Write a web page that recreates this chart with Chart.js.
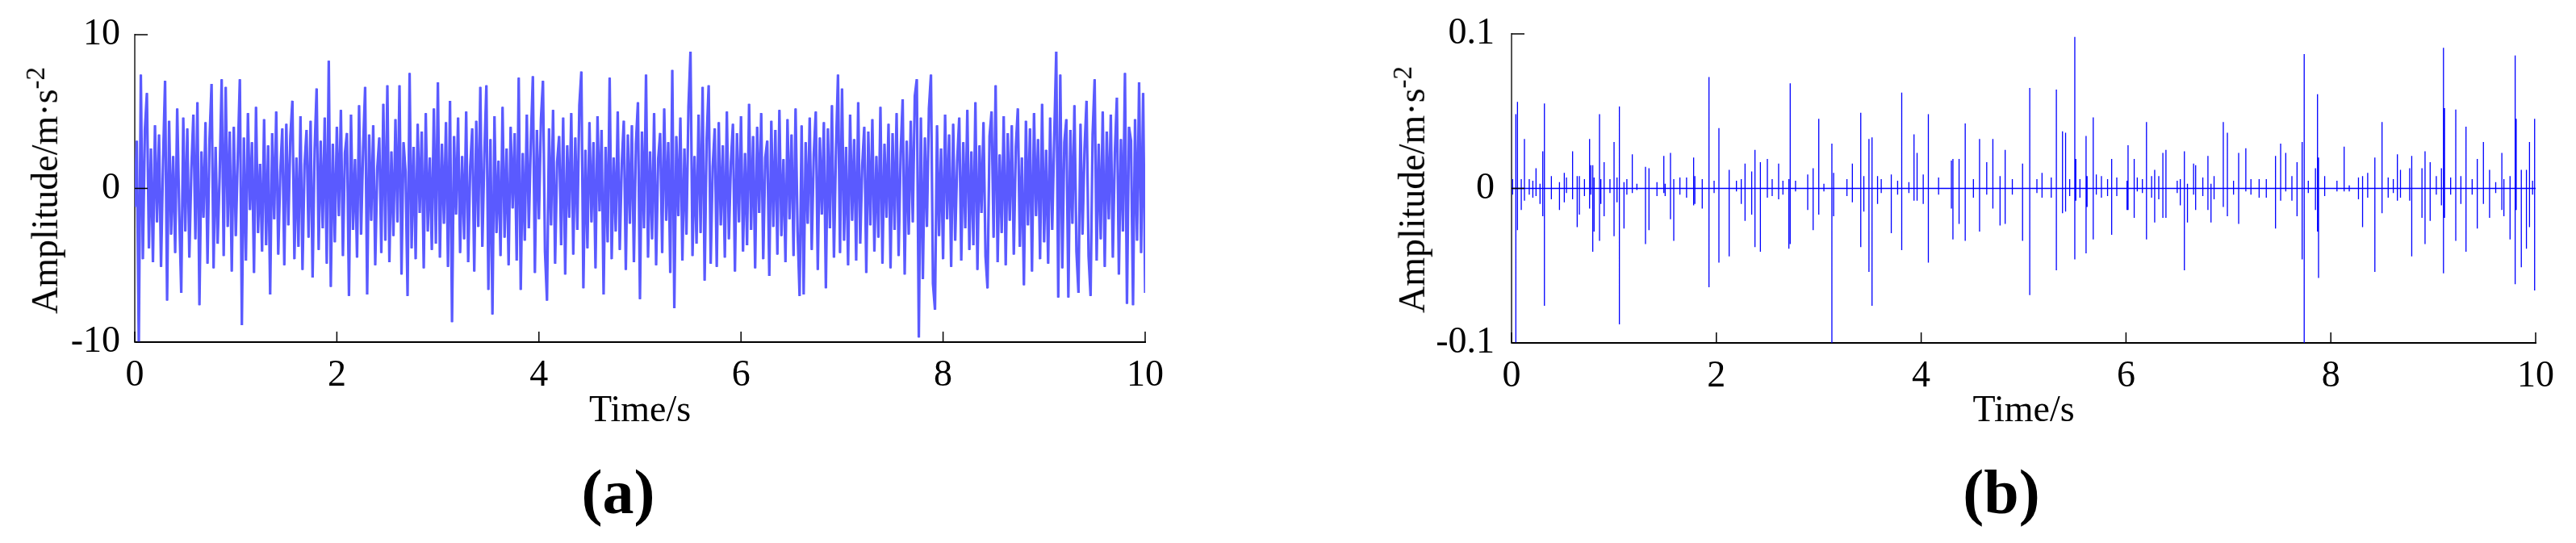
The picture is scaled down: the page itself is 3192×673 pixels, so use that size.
<!DOCTYPE html>
<html>
<head>
<meta charset="utf-8">
<script src="https://cdn.jsdelivr.net/npm/chart.js@4.4.0/dist/chart.umd.min.js"></script>
<style>
  body { margin: 0; background: #fff; width: 3192px; height: 673px; position: relative; overflow: hidden;
         font-family: 'Liberation Serif', 'Times New Roman', serif; color: #000; }
  .panel { position: absolute; top: 0; }
  .ytitle { position: absolute; font-size: 46px; white-space: nowrap; line-height: 1;
            transform: translate(-50%, -50%) rotate(-90deg); }
  .ytitle sup { font-size: 0.72em; }
  .caption { position: absolute; font-size: 78px; font-weight: bold; line-height: 1;
             transform: translate(-50%, -50%); }
</style>
</head>
<body>
<div class="panel" style="left:0px"><canvas id="chartA" width="1500" height="560"></canvas></div>
<div class="panel" style="left:1600px"><canvas id="chartB" width="1592" height="560"></canvas></div>
<div class="ytitle" style="left:53px; top:236px">Amplitude/m·s<sup>-2</sup></div>
<div class="ytitle" style="left:1747px; top:235px">Amplitude/m·s<sup>-2</sup></div>
<div class="caption" style="left:766px; top:610px">(a)</div>
<div class="caption" style="left:2480px; top:610px">(b)</div>
<script>
// tick labels
const timeTicks = [0, 2, 4, 6, 8, 10];
const ampTicksA = [-10, 0, 10];
const ampTicksB = [-0.1, 0, 0.1];

// (a) raw acceleration, evenly sampled over 0..10 s
const amplitudeA = [
  -1.2, 3.1, -10.2, 7.4, -4.6, 3.8, 6.2, -3.9, 2.6, -4.8, 4.1, -2.2, 3.5, -5.1, 1.8, 7.0, -7.3, 4.4, -3.0, 2.1, -4.2, 5.2, -1.5, -6.8, 4.6,
  -2.8, 3.9, -4.5, 1.2, 4.8, -3.3, 5.6, -7.6, 2.4, -1.9, 4.3, -4.9, 3.2, 6.8, -5.2, 2.7, -3.6, 0.8, 7.1, -4.4, 6.6, -2.5, 3.7, -5.4, 4.0,
  -3.1, 2.2, 7.1, -8.9, 3.3, -4.7, 4.9, -1.4, 3.0, -5.5, 5.3, -2.9, 1.6, -4.1, 4.5, -3.7, 2.8, -6.9, 3.6, -2.0, 5.0, -4.3, 1.0, 3.9, -5.0,
  4.2, -2.4, 3.4, 5.7, -4.6, 2.0, -3.8, 4.7, -5.3, 1.5, 3.8, -3.2, 4.4, -5.8, 2.5, 6.5, -4.0, 3.1, -2.6, 4.6, -4.9, 8.3, -6.4, 2.9, -3.5,
  4.0, -1.8, 5.1, -4.4, 2.3, 3.6, -7.0, 4.8, -2.7, 1.9, -4.5, 5.4, -3.0, 2.6, 6.6, -6.9, 3.5, -2.1, 4.1, -5.0, 1.3, 3.3, -4.2, 5.5, -3.4,
  6.7, -4.8, 2.4, -3.1, 4.5, -2.2, 6.7, -5.6, 3.0, 1.1, -7.0, 7.5, -3.9, 2.7, -4.6, 4.2, -1.6, 3.7, -5.2, 4.9, -2.8, 2.0, -4.0, 5.2, -3.6,
  6.9, -4.5, 2.9, -2.3, 4.3, -5.1, 5.7, -8.7, 3.4, -1.7, 4.6, -4.2, 2.1, -3.3, 5.0, -4.8, 1.4, 3.9, -5.4, 4.4, -2.5, 6.6, -3.8, 2.2, 6.7,
  -6.6, 3.2, -8.2, 4.7, -2.9, 1.8, -4.4, 5.3, -3.2, 2.6, -5.0, 4.0, -1.3, 3.6, -4.7, 7.2, -6.6, 2.3, -3.4, 4.8, -2.6, 3.1, 7.3, -5.5, 3.8,
  -2.0, 4.5, 7.0, -4.1, -7.3, 3.9, -2.4, 5.1, -4.9, 1.7, 3.4, -3.7, 4.6, -5.6, 2.8, -1.9, 4.9, -4.3, 3.3, -2.7, 5.4, 7.6, -6.5, 2.5, -3.9,
  4.3, -2.2, 3.0, -5.2, 4.7, -1.5, 3.8, -6.9, 2.7, -3.5, 7.2, -4.6, 2.0, -2.8, 5.0, -4.0, 1.6, 4.4, -5.3, 3.5, -2.3, 4.1, -4.8, 2.9, 5.6,
  -7.2, 3.7, -2.6, 7.4, -4.5, 2.4, -3.3, 4.9, -5.0, 1.9, 3.6, -4.2, 5.2, -2.1, 3.0, -5.5, 7.7, -7.8, 3.4, -1.8, 4.6, -4.7, 2.6, -3.0, 5.3,
  8.9, -4.4, 2.1, -3.6, 4.8, -2.9, 6.6, -6.0, 3.2, 6.7, -4.9, 1.4, 3.9, -5.1, 4.3, -2.4, 2.8, -4.5, 5.0, -3.3, 1.7, 4.2, -5.4, 3.6, -2.2,
  4.7, -4.1, 2.3, -3.7, 5.5, -2.7, 3.4, -5.2, 4.0, -1.6, 4.9, -4.6, 2.0, 3.1, -5.7, 4.4, -2.5, 3.8, -4.3, 5.1, -3.1, 1.9, -4.8, 4.5, -2.0,
  3.5, -4.4, 5.2, -2.8, -7.0, 4.1, -6.9, 3.0, -2.3, 4.6, -4.0, 2.2, 5.0, -5.3, 3.3, -1.7, 4.3, -6.5, 3.9, -2.6, 5.4, -4.5, 2.5, 7.4, -4.2,
  6.5, -3.4, 2.7, -5.0, 4.8, -2.1, 3.2, -4.7, 5.6, -3.6, 1.5, 4.0, -5.5, 3.7, -2.4, 4.5, -4.1, 2.1, -3.2, 5.3, -4.9, 2.9, -1.9, 4.2, -5.2,
  3.6, -2.7, 4.9, -4.4, 2.3, 5.8, -5.6, 3.1, -3.0, 4.4, -2.2, 6.0, 7.1, -9.7, 4.6, -5.9, 3.3, -2.5, 5.2, 7.4, -6.2, -7.9, 4.1, -3.1, 2.6,
  -4.6, 4.8, -2.0, 3.5, -5.1, 4.2, -3.4, 1.8, 4.6, -4.7, 3.0, -2.6, 5.1, -4.0, 2.4, -3.7, 5.6, -5.3, 2.8, -1.6, 4.3, -4.4, -6.5, 3.4, 5.0,
  -3.2, 6.7, -4.8, 2.2, -2.9, 4.7, -5.0, 3.6, -2.1, 4.1, -4.3, 2.7, 5.2, -3.8, 2.0, -6.3, 4.4, -2.4, 3.9, -5.4, 4.9, -1.8, 3.2, -4.6, 5.5,
  -3.5, 2.5, -4.9, 4.6, -2.7, 3.3, 8.9, -7.1, 7.4, -5.2, 3.0, 4.5, -7.1, 3.8, -2.3, 5.4, -4.1, -6.8, 4.2, -3.0, 2.6, 5.7, -4.4, -7.0, 3.5,
  7.1, -4.7, 2.9, -3.3, 5.0, -5.1, 3.7, -2.0, 4.8, -4.5, 2.3, 5.9, -5.6, 3.2, -2.8, 7.5, -7.5, 4.0, 3.1, -7.6, 4.5, -3.4, 6.9, -4.2, 6.2, -6.8
];

// (b) denoised signal: impulses (time s, upper and lower tip)
const spikeTimeB = [
  0.01, 0.042, 0.058, 0.095, 0.126, 0.173, 0.208, 0.239, 0.278, 0.305,
  0.321, 0.389, 0.468, 0.515, 0.536, 0.596, 0.641, 0.662, 0.712, 0.762,
  0.775, 0.793, 0.806, 0.859, 0.872, 0.904, 0.961, 1.001, 1.03, 1.053,
  1.098, 1.126, 1.179, 1.224, 1.308, 1.342, 1.42, 1.487, 1.50, 1.552,
  1.584, 1.644, 1.709, 1.778, 1.79, 1.862, 1.928, 1.978, 2.025, 2.125,
  2.196, 2.243, 2.28, 2.345, 2.377, 2.43, 2.498, 2.545, 2.608, 2.65,
  2.708, 2.721, 2.773, 2.892, 2.945, 3.0, 3.05, 3.128, 3.145, 3.275,
  3.328, 3.41, 3.44, 3.49, 3.52, 3.574, 3.61, 3.708, 3.77, 3.81,
  3.88, 3.93, 3.96, 4.02, 4.07, 4.17, 4.295, 4.31, 4.37, 4.43,
  4.51, 4.57, 4.64, 4.70, 4.77, 4.82, 4.89, 4.99, 5.06, 5.13,
  5.18, 5.27, 5.32, 5.38, 5.41, 5.45, 5.50, 5.51, 5.55, 5.61,
  5.62, 5.68, 5.71, 5.76, 5.82, 5.86, 5.91, 6.01, 6.02, 6.08,
  6.11, 6.16, 6.20, 6.25, 6.28, 6.32, 6.36, 6.39, 6.50, 6.53,
  6.57, 6.60, 6.66, 6.68, 6.75, 6.80, 6.83, 6.86, 6.95, 6.99,
  7.05, 7.10, 7.17, 7.22, 7.30, 7.37, 7.46, 7.51, 7.56, 7.62,
  7.67, 7.72, 7.74, 7.78, 7.85, 7.87, 7.88, 7.94, 8.06, 8.13,
  8.18, 8.27, 8.31, 8.36, 8.43, 8.50, 8.56, 8.61, 8.65, 8.68,
  8.77, 8.79, 8.89, 8.92, 8.97, 9.03, 9.08, 9.10, 9.11, 9.17,
  9.22, 9.27, 9.32, 9.38, 9.43, 9.49, 9.55, 9.61, 9.67, 9.69,
  9.75, 9.80, 9.81, 9.86, 9.91, 9.94, 9.97, 9.99
];
const spikeHighB = [
  0.006, 0.048, 0.056, 0.006, 0.032, 0.006, 0.005, 0.013, 0.003, 0.024,
  0.055, 0.008, 0.004, 0.010, 0.007, 0.024, 0.008, 0.008, 0.006, 0.032,
  0.015, 0.015, 0.007, 0.048, 0.006, 0.017, 0.006, 0.030, 0.007, 0.053,
  0.004, 0.006, 0.022, 0.003, 0.014, 0.013, 0.004, 0.021, 0.003, 0.023,
  0.006, 0.007, 0.007, 0.020, 0.008, 0.006, 0.072, 0.005, 0.039, 0.012,
  0.005, 0.006, 0.016, 0.011, 0.025, 0.017, 0.019, 0.006, 0.016, 0.005,
  0.006, 0.068, 0.005, 0.009, 0.013, 0.045, 0.003, 0.029, 0.010, 0.006,
  0.016, 0.049, 0.008, 0.032, 0.033, 0.008, 0.006, 0.009, 0.005, 0.062,
  0.004, 0.035, 0.023, 0.009, 0.048, 0.007, 0.018, 0.019, 0.019, 0.042,
  0.006, 0.032, 0.017, 0.032, 0.008, 0.025, 0.006, 0.016, 0.065, 0.006,
  0.010, 0.007, 0.064, 0.037, 0.036, 0.006, 0.098, 0.019, 0.006, 0.034,
  0.008, 0.046, 0.009, 0.008, 0.006, 0.019, 0.007, 0.005, 0.028, 0.019,
  0.007, 0.006, 0.043, 0.008, 0.012, 0.008, 0.023, 0.025, 0.005, 0.006,
  0.024, 0.003, 0.016, 0.015, 0.007, 0.021, 0.003, 0.008, 0.043, 0.036,
  0.005, 0.023, 0.026, 0.006, 0.006, 0.006, 0.021, 0.029, 0.023, 0.008,
  0.017, 0.030, 0.087, 0.005, 0.013, 0.061, 0.020, 0.008, 0.005, 0.027,
  0.002, 0.007, 0.008, 0.010, 0.020, 0.043, 0.007, 0.006, 0.022, 0.012,
  0.013, 0.021, 0.013, 0.024, 0.017, 0.008, 0.013, 0.091, 0.052, 0.007,
  0.051, 0.008, 0.040, 0.006, 0.019, 0.030, 0.012, 0.004, 0.023, 0.006,
  0.008, 0.086, 0.045, 0.012, 0.012, 0.030, 0.005, 0.045
];
const spikeLowB = [
  -0.004, -0.105, -0.027, -0.014, -0.008, -0.004, -0.006, -0.005, -0.010, -0.018,
  -0.076, -0.007, -0.014, -0.009, -0.003, -0.007, -0.025, -0.017, -0.005, -0.013,
  -0.004, -0.041, -0.028, -0.034, -0.010, -0.018, -0.003, -0.031, -0.009, -0.088,
  -0.026, -0.004, -0.003, -0.001, -0.036, -0.027, -0.005, -0.003, -0.005, -0.020,
  -0.034, -0.004, -0.006, -0.011, -0.010, -0.013, -0.064, -0.003, -0.048, -0.044,
  -0.002, -0.010, -0.021, -0.017, -0.038, -0.041, -0.006, -0.005, -0.007, -0.004,
  -0.039, -0.036, -0.002, -0.014, -0.027, -0.017, -0.002, -0.105, -0.018, -0.005,
  -0.009, -0.038, -0.015, -0.054, -0.076, -0.010, -0.003, -0.029, -0.004, -0.040,
  -0.003, -0.008, -0.008, -0.010, -0.048, -0.004, -0.013, -0.033, -0.023, -0.034,
  -0.006, -0.028, -0.004, -0.013, -0.024, -0.023, -0.004, -0.034, -0.069, -0.003,
  -0.006, -0.006, -0.053, -0.016, -0.015, -0.005, -0.046, -0.008, -0.006, -0.042,
  -0.012, -0.033, -0.004, -0.006, -0.005, -0.030, -0.005, -0.014, -0.014, -0.019,
  -0.002, -0.003, -0.033, -0.006, -0.022, -0.007, -0.019, -0.019, -0.003, -0.011,
  -0.053, -0.022, -0.004, -0.014, -0.005, -0.014, -0.022, -0.007, -0.012, -0.018,
  -0.004, -0.023, -0.002, -0.004, -0.006, -0.006, -0.026, -0.008, -0.002, -0.008,
  -0.018, -0.046, -0.105, -0.003, -0.014, -0.028, -0.058, -0.005, -0.002, -0.002,
  -0.002, -0.007, -0.025, -0.006, -0.054, -0.016, -0.006, -0.003, -0.008, -0.006,
  -0.008, -0.044, -0.019, -0.036, -0.021, -0.004, -0.011, -0.055, -0.019, -0.004,
  -0.034, -0.010, -0.041, -0.004, -0.026, -0.010, -0.019, -0.003, -0.014, -0.018,
  -0.033, -0.062, -0.014, -0.051, -0.039, -0.025, -0.004, -0.066
];

const fontFamily = "'Liberation Serif', 'Times New Roman', serif";

function pointsA() {
  const step = 10 / (amplitudeA.length - 1);
  return amplitudeA.map((v, i) => ({ x: i * step, y: v }));
}

function pointsB() {
  // each impulse is a vertical stroke from its upper to its lower tip, back to the zero line
  const pts = [{ x: 0, y: 0 }];
  spikeTimeB.forEach((t, i) => {
    pts.push({ x: t, y: 0 }, { x: t, y: spikeHighB[i] }, { x: t, y: spikeLowB[i] }, { x: t, y: 0 });
  });
  pts.push({ x: 10, y: 0 });
  return pts;
}

// MATLAB-style ticks pointing into the plot
const innerTicks = {
  id: 'innerTicks',
  afterDraw(chart) {
    const { ctx, chartArea, scales } = chart;
    ctx.save();
    ctx.strokeStyle = '#000';
    ctx.lineWidth = 1.5;
    ctx.beginPath();
    scales.x.ticks.forEach(t => {
      const px = scales.x.getPixelForValue(t.value);
      ctx.moveTo(px, chartArea.bottom);
      ctx.lineTo(px, chartArea.bottom - 13);
    });
    scales.y.ticks.forEach(t => {
      const py = scales.y.getPixelForValue(t.value);
      ctx.moveTo(chartArea.left, py);
      ctx.lineTo(chartArea.left + 16, py);
    });
    ctx.stroke();
    ctx.restore();
  }
};

function lineSet(points, color, width) {
  return { data: points, borderColor: color, borderWidth: width, pointRadius: 0, tension: 0, fill: false };
}

function makeChart(id, datasets, yTicks, yMin, yMax, box) {
  const ctx = document.getElementById(id).getContext('2d');
  return new Chart(ctx, {
    type: 'line',
    data: { datasets: datasets },
    options: {
      responsive: false,
      animation: false,
      events: [],
      layout: { padding: { left: 0, top: box.top, right: box.right, bottom: 0 } },
      plugins: { legend: { display: false }, tooltip: { enabled: false } },
      scales: {
        x: {
          type: 'linear',
          min: 0,
          max: 10,
          afterBuildTicks: s => { s.ticks = timeTicks.map(v => ({ value: v })); },
          afterFit: s => { s.height = box.xHeight; },
          grid: { display: false },
          border: { display: true, color: '#000', width: 2 },
          ticks: {
            color: '#000',
            padding: 6,
            maxRotation: 0,
            autoSkip: false,
            font: { family: fontFamily, size: 46 },
            callback: v => String(v)
          },
          title: {
            display: true,
            text: 'Time/s',
            color: '#000',
            font: { family: fontFamily, size: 46 },
            padding: { top: 0, bottom: 22 }
          }
        },
        y: {
          type: 'linear',
          min: yMin,
          max: yMax,
          afterBuildTicks: s => { s.ticks = yTicks.map(v => ({ value: v })); },
          afterFit: s => { s.width = box.yWidth; },
          grid: { display: false },
          border: { display: true, color: '#555', width: 2 },
          ticks: {
            color: '#000',
            padding: box.tickPad,
            autoSkip: false,
            font: { family: fontFamily, size: 46 },
            callback: v => String(v)
          }
        }
      }
    },
    plugins: [innerTicks]
  });
}

const dataA = pointsA();
const dataB = pointsB();
// light wide stroke under a dark stroke gives the dense look of the original trace
makeChart('chartA', [lineSet(dataA, '#5a5aff', 3.2), lineSet(dataA, 'rgb(0,0,255)', 1.6)],
  ampTicksA, -10, 10, { top: 43, right: 81, xHeight: 136, yWidth: 167, tickPad: 10 });
makeChart('chartB', [lineSet(dataB, 'rgb(0,0,255)', 1.3)],
  ampTicksB, -0.1, 0.1, { top: 42, right: 50, xHeight: 135, yWidth: 273, tickPad: 13 });
</script>
</body>
</html>
